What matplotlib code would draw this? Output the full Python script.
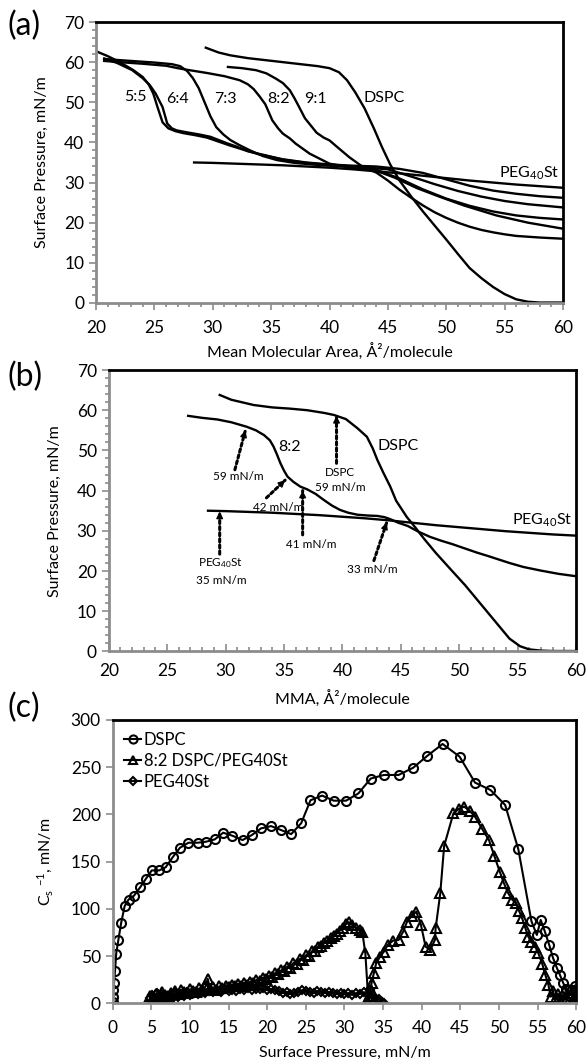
import numpy as np
import matplotlib
matplotlib.use("Agg")
import matplotlib.pyplot as plt
from matplotlib.ticker import MultipleLocator

plt.rcParams['font.family'] = ['Lato', 'DejaVu Sans']
plt.rcParams['mathtext.default'] = 'regular'

# ---------------- data, panel (a): isotherms ----------------
a_dspc_x = [29.4, 30.5, 31.5, 33, 34.5, 36, 37.5, 39, 40, 40.8, 41.5, 42.2, 43, 43.8, 44.5, 45.2,
            46, 47, 48, 49, 50, 51, 52, 53, 54, 55, 56, 57, 58, 59, 60]
a_dspc_y = [63.6, 62.4, 61.7, 61.0, 60.5, 60.0, 59.5, 59.0, 58.5, 57.5, 55.5, 52.5, 48.5, 43.5, 38.8, 34.5,
            30.5, 26.5, 22.8, 19.3, 15.8, 12.2, 8.7, 6.2, 4.0, 2.2, 0.9, 0.3, 0.1, 0.1, 0.1]

a_peg_x = [28.4, 30, 32, 34, 36, 38, 40, 42, 44, 46, 48, 50, 52, 54, 56, 58, 60]
a_peg_y = [35.0, 34.9, 34.7, 34.5, 34.3, 34.0, 33.7, 33.3, 32.8, 32.3, 31.7, 31.1, 30.5, 30.0, 29.5, 29.1, 28.7]

a_55_x = [20.1, 21, 21.7, 22.5, 23.2, 24, 24.5, 24.9, 25.3, 25.7, 26.2, 26.8, 27.5, 28.5, 29.5, 30.5,
          31.5, 32.5, 34, 36, 38, 40, 42, 44, 46, 48, 50, 52, 54, 56, 58, 60]
a_55_y = [62.6, 61.5, 60.5, 59.2, 58.0, 56.3, 54.5, 52.2, 48.5, 45.0, 43.5, 42.8, 42.3, 41.8, 41.2, 40.2,
          39.2, 38.3, 37.0, 35.8, 35.0, 34.5, 34.2, 34.0, 33.4, 32.4, 30.8, 29.2, 28.0, 27.2, 26.6, 26.2]

a_64_x = [20.7, 21.8, 23.1, 24, 24.6, 25.1, 25.4, 25.7, 26.1, 26.5, 26.9, 27.8, 28.8, 29.8, 30.5, 31.2,
          32, 33, 34.5, 36, 38, 40, 42, 45, 47, 49, 51, 53, 55, 57, 60]
a_64_y = [60.9, 59.8, 58.0, 56.0, 54.3, 52.2, 50.5, 48.8, 44.7, 43.5, 43.0, 42.5, 42.0, 41.4, 40.6, 39.8,
          39.0, 37.8, 36.8, 35.7, 34.9, 34.4, 34.0, 33.3, 31.5, 29.6, 27.9, 26.5, 25.4, 24.6, 23.8]

a_73_x = [20.7, 22, 23.5, 25, 26.5, 27.2, 27.8, 28.3, 28.8, 29.3, 29.8, 30.3, 30.9, 31.5, 32.3, 33.2,
          34.3, 35.5, 37, 38.5, 40, 42, 44, 46, 48, 50, 52, 54, 56, 58, 60]
a_73_y = [60.8, 60.5, 60.2, 59.9, 59.5, 59.0, 57.8, 56.0, 53.5, 50.0, 46.5, 43.8, 42.0, 40.6, 39.3, 38.0,
          36.6, 35.6, 34.9, 34.5, 34.2, 33.8, 33.2, 31.0, 28.3, 26.0, 24.2, 22.8, 21.8, 21.2, 20.8]

a_82_x = [20.7, 22, 24, 26, 27, 28, 29.5, 31, 32.3, 33, 33.5, 34, 34.5, 35.1, 35.6, 36, 36.6, 37.1,
          38.3, 40, 42, 43.5, 44.5, 45.6, 47.5, 49.4, 51.5, 54.3, 57, 60]
a_82_y = [60.3, 60.0, 59.6, 59.1, 58.5, 58.0, 57.3, 56.5, 55.5, 54.5, 53.3, 51.5, 49.5, 45.5, 43.5, 42.2,
          41.0, 39.7, 37.2, 34.7, 33.7, 33.2, 32.4, 31.2, 28.6, 26.5, 24.3, 21.8, 20.0, 18.5]

a_91_x = [31.3, 32.5, 33.7, 34.6, 35.4, 36, 36.6, 37.0, 37.4, 37.9, 38.4, 38.9, 39.5, 40, 40.6, 41.7,
          42.9, 44, 45, 46, 47, 48, 49, 50, 51, 52, 53, 54, 55, 56, 58, 60]
a_91_y = [58.8, 58.5, 58.0, 57.2, 55.9, 54.8, 53.0, 51.0, 48.8, 46.0, 44.2, 42.4, 41.2, 40.5, 39.0, 36.3,
          33.8, 32.5, 30.5, 28.2, 26.2, 24.3, 22.6, 21.2, 20.0, 19.0, 18.2, 17.6, 17.1, 16.7, 16.3, 16.0]

a_labels = ['5:5', '6:4', '7:3', '8:2', '9:1', 'DSPC']
a_label_x = [23.4, 27.0, 31.1, 35.6, 38.8, 44.7]
a_label_y = [51.3, 50.9, 50.9, 50.9, 50.9, 51.1]

# ---------------- data, panel (b) ----------------
b_dspc_x = [29.5, 30.5, 32.4, 34, 35.5, 37, 38.5, 39.3, 40.3, 41.3, 42.1, 42.6, 43.0, 43.5, 44.1, 44.6,
            45.5, 46.2, 47, 48, 49.4, 50.5, 51.5, 52.5, 53.5, 54.3, 55.2, 56, 57, 58, 59, 60]
b_dspc_y = [63.8, 62.6, 61.3, 60.7, 60.4, 60.0, 59.3, 58.8, 57.8, 55.5, 53.4, 50.5, 47.6, 44.5, 41.0, 37.5,
            33.5, 31.0, 28.0, 24.5, 20.0, 16.5, 13.0, 9.5, 6.0, 3.2, 1.3, 0.5, 0.2, 0.1, 0.1, 0.1]

b_82_x = [26.8, 28, 29.3, 30.5, 31.8, 32.6, 33.3, 33.8, 34.1, 34.4, 34.7, 35.0, 35.3, 35.8, 36.4, 37.0,
          37.7, 38.4, 39.1, 39.8, 40.5, 41.3, 42.2, 43.0, 43.6, 44.1, 44.8, 45.6, 46.5, 47.5, 48.5, 49.4,
          50.5, 51.5, 52.5, 54.3, 55.5, 57, 58.5, 60]
b_82_y = [58.6, 58.1, 57.7, 57.0, 55.9, 55.0, 53.8, 52.5, 51.0, 49.0, 46.8, 45.0, 43.5, 42.2, 41.0, 40.3,
          39.2, 37.7, 36.3, 35.2, 34.5, 34.0, 33.8, 33.7, 33.4, 32.9, 32.0, 31.2, 29.8, 28.5, 27.5, 26.7,
          25.6, 24.6, 23.7, 22.0, 21.0, 20.1, 19.3, 18.7]

b_peg_x = [28.5, 30, 32, 34, 36, 38, 40, 42, 44, 46, 48, 50, 52, 54, 56, 58, 60]
b_peg_y = [35.0, 34.9, 34.7, 34.5, 34.2, 33.9, 33.5, 33.1, 32.6, 32.0, 31.4, 30.9, 30.4, 29.9, 29.5, 29.1, 28.8]

# annotations: text, text position, arrow start, arrow tip
b_notes = ['59 mN/m', '42 mN/m', '41 mN/m', 'PEG$_{40}$St\n35 mN/m', 'DSPC\n59 mN/m', '33 mN/m']
b_note_xy = [(31.1, 43.5), (34.5, 35.8), (37.3, 26.6), (29.6, 20.0), (39.8, 42.6), (42.6, 20.4)]
b_arrow_from = [(30.8, 45.2), (33.5, 38.2), (36.6, 29.0), (29.5, 24.2), (39.5, 46.8), (42.7, 22.6)]
b_arrow_to = [(31.7, 55.0), (35.1, 42.6), (36.6, 40.0), (29.5, 34.8), (39.5, 58.6), (43.8, 32.1)]

# ---------------- data, panel (c): compressibility modulus ----------------
c_dspc_x = [0.0, 0.0, 0.09, 0.17, 0.3, 0.45, 0.73, 1.1, 1.55, 2.05, 2.75, 3.55, 4.25, 5.05, 6.0, 6.85,
            7.75, 8.7, 9.8, 11.0, 12.1, 13.2, 14.3, 15.5, 16.8, 18.0, 19.2, 20.5, 21.8, 23.1, 24.4, 25.6,
            27.1, 28.6, 30.2, 31.8, 33.4, 35.1, 37.0, 38.9, 40.7, 42.7, 44.9, 46.9, 48.9, 50.8, 52.5,
            54.2, 54.9, 55.4, 55.9, 56.5, 57.0, 57.5, 57.9, 58.3, 58.7, 59.0, 59.4, 59.8, 59.9, 60.0, 59.2]
c_dspc_y = [1.9, 7.2, 14.3, 21.4, 34.8, 52.8, 67.2, 85.6, 103.2, 110, 114, 122.9, 131.4, 140.8, 140.8, 144.1,
            154.6, 164.8, 170.1, 170.1, 171.2, 173.6, 180.7, 177.5, 172.9, 178.2, 185.3, 187.7, 183.5, 179.2,
            190.8, 215, 220, 214.6, 214.6, 222.3, 238, 241.8, 241.8, 249.5, 261.9, 274.6, 261.2, 233.7,
            225.9, 210, 163.3, 87, 72.5, 88.4, 77, 62, 48, 37.5, 30, 22, 15, 8, 14, 19, 12, 3, 2]

c_82_x = [4.8, 5.2, 5.6, 6.0, 6.4, 6.8, 7.2, 7.6, 8.0, 8.4, 8.8, 9.2, 9.6, 10.0, 10.4, 10.8, 11.2, 11.6,
          12.0, 12.3, 12.6, 13.0, 13.4, 13.8, 14.2, 14.6, 15.0, 15.4, 15.8, 16.2, 16.6, 17.0, 17.4, 17.8,
          18.2, 18.6, 19.0, 19.4, 19.8, 20.2, 20.6, 21.0, 21.4, 21.8, 22.2, 22.6, 23.0, 23.4, 23.8, 24.2,
          24.6, 25.0, 25.4, 25.8, 26.2, 26.6, 27.0, 27.4, 27.8, 28.2, 28.6, 29.0, 29.4, 29.8, 30.2, 30.6,
          31.0, 31.5, 32.0, 32.3, 32.7,
          33.1, 33.2, 33.4, 33.5, 33.8, 34.1, 34.6, 35.1, 35.6, 36.3, 37.0, 37.6, 38.1, 38.7, 39.3, 39.9,
          40.5, 41.1, 41.7, 41.8, 42.4, 42.9, 44.1, 44.8, 45.5, 46.2, 46.9, 47.8, 48.7, 49.4, 50.1, 50.6,
          51.2, 51.7, 52.2, 52.6, 53.0, 53.4, 53.8, 54.2, 54.7, 55.1, 55.6, 56.0, 56.4, 56.7, 57.0, 57.3,
          57.7, 58.0, 58.4, 58.8, 59.2, 59.6, 60.0]
c_82_y = [8, 6, 10, 7, 12, 9, 8, 11, 13, 10, 14, 12, 11, 15, 13, 12, 16, 14,
          18, 26, 15, 17, 14, 18, 16, 19, 17, 20, 18, 21, 19, 22, 20, 23,
          22, 25, 24, 27, 26, 29, 28, 32, 31, 35, 34, 39, 38, 43, 42, 47,
          46, 51, 50, 55, 56, 60, 61, 64, 66, 69, 71, 74, 77, 80, 84, 86,
          83, 80, 78, 76, 53,
          1.9, 8, 14.3, 21.4, 32, 42.5, 49.5, 54.8, 62, 66.5, 67.2, 76, 86.6, 92.5, 97.1, 83.1,
          60.1, 56.6, 67.2, 79.6, 116.6, 166.7, 201.2, 206, 208.2, 204, 197.6, 185, 173, 156, 139.5, 128,
          116.6, 110, 106, 98, 90.1, 80, 70.7, 65, 60.1, 53.1, 42, 30.2, 19.6, 7.2, 13, 4,
          10, 2, 12, 5, 14, 3, 9]

c_peg_x = [4.8, 5.1, 5.4, 5.7, 6.0, 6.3, 6.6, 6.9, 7.2, 7.5, 7.8, 8.1, 8.4, 8.8, 9.2, 9.6, 10.0, 10.5,
           11.0, 11.5, 12.0, 12.5, 13.0, 13.5, 14.0, 14.5, 15.0, 15.5, 16.0, 16.5, 17.0, 17.5, 18.0, 18.5,
           19.0, 19.5, 20.0, 20.5, 21.0, 21.5, 22.0, 22.5, 23.0, 23.5, 24.0, 24.5, 25.0, 25.5, 26.0, 26.5,
           27.0, 27.5, 28.0, 28.5, 29.0, 29.5, 30.0, 30.5, 31.0, 31.5, 32.0, 32.5, 33.0, 33.3, 33.6, 33.9,
           34.2, 34.5, 34.8, 35.1]
c_peg_y = [6, 9, 5, 11, 7, 10, 2, 8, 4, 9, 6, 11, 7, 10, 8, 12, 9, 11,
           10, 12, 11, 13, 12, 14, 12, 15, 13, 14, 13, 15, 14, 16, 14, 15,
           15, 16, 14, 15, 14, 13, 11, 12, 10, 11, 12, 14, 13, 12, 11, 13,
           12, 11, 12, 11, 10, 11, 10, 11, 9, 11, 10, 12, 10, 14, 9, 6,
           4, 5, 2, 1]


def style_axes(ax):
    ax.spines['left'].set_color('#8c8c8c')
    ax.spines['bottom'].set_color('#8c8c8c')
    ax.spines['left'].set_linewidth(2)
    ax.spines['bottom'].set_linewidth(2)
    ax.spines['top'].set_linewidth(2)
    ax.spines['right'].set_linewidth(2)
    ax.tick_params(which='both', color='#8c8c8c', labelsize=12.5, width=1.2)
    ax.tick_params(which='major', length=5)
    ax.tick_params(which='minor', length=3)


def dotted_arrow(ax, start, tip):
    ax.annotate('', xy=tip, xytext=start,
                arrowprops=dict(arrowstyle='-', ls=(0, (1, 1)), lw=2.2, color='k',
                                shrinkA=0, shrinkB=0))
    dx = tip[0] - start[0]
    dy = tip[1] - start[1]
    ax.annotate('', xy=tip, xytext=(tip[0] - dx * 0.15, tip[1] - dy * 0.15),
                arrowprops=dict(arrowstyle='-|>', lw=1, color='k', mutation_scale=10,
                                shrinkA=0, shrinkB=0))


fig = plt.figure(figsize=(5.88, 10.63), dpi=100)

# ---------------- (a) ----------------
ax1 = fig.add_axes([0.1633, 0.7150, 0.7942, 0.2643])
for xs, ys in [(a_dspc_x, a_dspc_y), (a_peg_x, a_peg_y), (a_55_x, a_55_y), (a_64_x, a_64_y),
               (a_73_x, a_73_y), (a_82_x, a_82_y), (a_91_x, a_91_y)]:
    ax1.plot(xs, ys, color='k', lw=1.7)
for t, x, y in zip(a_labels, a_label_x, a_label_y):
    ax1.text(x, y, t, ha='center', va='center', fontsize=11.5)
ax1.text(59.7, 32.3, 'PEG$_{40}$St', ha='right', va='center', fontsize=11.5)
ax1.set_xlim(20, 60)
ax1.set_ylim(0, 70)
ax1.xaxis.set_major_locator(MultipleLocator(5))
ax1.xaxis.set_minor_locator(MultipleLocator(1))
ax1.yaxis.set_major_locator(MultipleLocator(10))
ax1.yaxis.set_minor_locator(MultipleLocator(2))
style_axes(ax1)
ax1.tick_params(axis='x', pad=7)
ax1.set_xlabel('Mean Molecular Area, Å²/molecule', fontsize=11.5)
ax1.set_ylabel('Surface Pressure, mN/m', fontsize=11.5)
ax1.xaxis.set_label_coords(0.5, -0.145)
ax1.yaxis.set_label_coords(-0.10, 0.5)

# ---------------- (b) ----------------
ax2 = fig.add_axes([0.1849, 0.3872, 0.7947, 0.2647])
ax2.plot(b_dspc_x, b_dspc_y, color='k', lw=1.7)
ax2.plot(b_82_x, b_82_y, color='k', lw=1.7)
ax2.plot(b_peg_x, b_peg_y, color='k', lw=1.7)
ax2.text(35.5, 50.9, '8:2', ha='center', va='center', fontsize=11.5)
ax2.text(44.8, 51.0, 'DSPC', ha='center', va='center', fontsize=11.5)
ax2.text(59.7, 32.5, 'PEG$_{40}$St', ha='right', va='center', fontsize=11.5)
for t, xy, s, e in zip(b_notes, b_note_xy, b_arrow_from, b_arrow_to):
    dotted_arrow(ax2, s, e)
    ax2.text(xy[0], xy[1], t, ha='center', va='center', fontsize=8.5, linespacing=1.5)
ax2.set_xlim(20, 60)
ax2.set_ylim(0, 70)
ax2.xaxis.set_major_locator(MultipleLocator(5))
ax2.xaxis.set_minor_locator(MultipleLocator(1))
ax2.yaxis.set_major_locator(MultipleLocator(10))
ax2.yaxis.set_minor_locator(MultipleLocator(2))
style_axes(ax2)
ax2.tick_params(axis='x', which='both', direction='in', pad=8)
ax2.set_xlabel('MMA, Å²/molecule', fontsize=11.5)
ax2.set_ylabel('Surface Pressure, mN/m', fontsize=11.5)
ax2.xaxis.set_label_coords(0.5, -0.14)
ax2.yaxis.set_label_coords(-0.10, 0.5)

# ---------------- (c) ----------------
ax3 = fig.add_axes([0.1917, 0.0560, 0.7883, 0.2667])
ax3.plot(c_dspc_x, c_dspc_y, color='k', lw=1.5, marker='o', ms=6.5, mfc='none', mew=1.5,
         label='DSPC')
ax3.plot(c_82_x, c_82_y, color='k', lw=1.5, marker='^', ms=6.5, mfc='none', mew=1.5,
         label='8:2 DSPC/PEG40St')
ax3.plot(c_peg_x, c_peg_y, color='k', lw=1.5, marker='D', ms=4.5, mfc='none', mew=1.5,
         label='PEG40St')
ax3.set_xlim(0, 60)
ax3.set_ylim(0, 300)
ax3.xaxis.set_major_locator(MultipleLocator(5))
ax3.yaxis.set_major_locator(MultipleLocator(50))
style_axes(ax3)
ax3.tick_params(axis='x', pad=7)
ax3.set_xlabel('Surface Pressure, mN/m', fontsize=11.5)
ax3.set_ylabel('C$_s$ $^{-1}$, mN/m', fontsize=11.5)
ax3.xaxis.set_label_coords(0.5, -0.15)
ax3.yaxis.set_label_coords(-0.125, 0.5)
ax3.legend(loc='upper left', frameon=False, fontsize=12, handlelength=1.0,
           handletextpad=0.15, labelspacing=0.3, borderaxespad=0.3, markerscale=0.9)

# panel letters
fig.text(0.012, 0.990, '(a)', fontsize=23, va='top')
fig.text(0.012, 0.660, '(b)', fontsize=23, va='top')
fig.text(0.012, 0.348, '(c)', fontsize=23, va='top')

fig.savefig('out.png', dpi=100)
